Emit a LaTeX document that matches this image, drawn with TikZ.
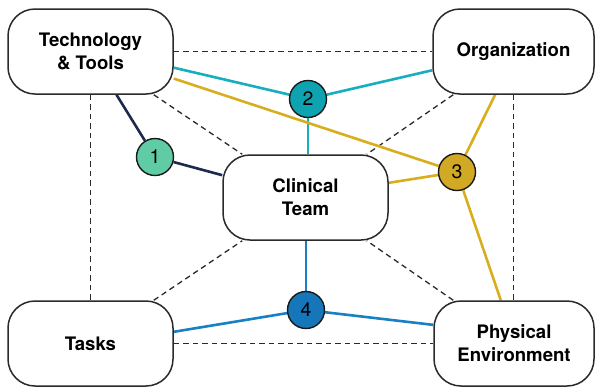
\documentclass[tikz,border=0pt]{standalone}
\usepackage{fontspec}
\setmainfont{TeX Gyre Heros}
\usetikzlibrary{calc}
\pgfdeclarelayer{bg}
\pgfsetlayers{bg,main}
\definecolor{navy}{HTML}{1C2A4F}
\definecolor{tealline}{HTML}{17AEBF}
\definecolor{tealfill}{HTML}{0FA3B1}
\definecolor{goldline}{HTML}{D8AE1F}
\definecolor{goldfill}{HTML}{D1A924}
\definecolor{blueline}{HTML}{1A80C4}
\definecolor{bluefill}{HTML}{1676BA}
\definecolor{mint}{HTML}{5FCCA6}
\definecolor{edge}{HTML}{2A2A2A}
\tikzset{
  box/.style={draw=edge, line width=1.5pt, fill=white, rounded corners=27pt,
    minimum width=165pt, minimum height=85pt, inner sep=0pt, align=center,
    font=\fontsize{18.6}{23}\selectfont\bfseries},
  num/.style={circle, draw=black!90, line width=1.4pt, minimum size=37pt, inner sep=0pt,
    font=\fontsize{19.5}{20}\selectfont},
  dashline/.style={dashed, dash pattern=on 5.5pt off 4pt, line width=1.3pt, draw=edge},
  cline/.style={line width=2.6pt}
}
\begin{document}
\begin{tikzpicture}[x=1pt,y=-1pt]
\useasboundingbox (0,0) rectangle (596,389);
\node[box] (tech) at (90.5,51.5) {Technology\\\& Tools};
\node[box, minimum width=161pt] (org) at (513.5,51.5) {Organization};
\node[box] (tasks) at (90.5,343.5) {Tasks};
\node[box, minimum width=160pt] (phys) at (514,343.5) {Physical\\Environment};
\node[box] (clin) at (305.5,197.5) {Clinical\\Team};
\node[num, fill=mint] (c1) at (155,157) {1};
\node[num, fill=tealfill] (c2) at (308,99) {2};
\node[num, fill=goldfill] (c3) at (457,172) {3};
\node[num, fill=bluefill] (c4) at (306,310) {4};
\begin{pgfonlayer}{bg}
  % dashed frame
  \draw[dashline] (tech.east) -- (org.west);
  \draw[dashline] (tech.south) -- (tasks.north);
  \draw[dashline] (org.south) -- (org.south |- phys.north);
  \draw[dashline] (tasks.east) -- (phys.west);
  % dashed diagonals
  \draw[dashline] ($(tech.south east)+(-20,0)$) -- ($(clin.north west)+(20,0)$);
  \draw[dashline] ($(org.south west)+(21,0)$) -- ($(clin.north east)+(-22,0)$);
  \draw[dashline] ($(tasks.north east)+(-20,0)$) -- ($(clin.south west)+(20,0)$);
  \draw[dashline] ($(phys.north west)+(20,0)$) -- ($(clin.south east)+(-22,0)$);
  % 1 navy
  \draw[cline, navy] (tech.-59) -- (c1) -- (clin.165.4);
  % 2 teal
  \draw[cline, tealline] (tech.-11.7) -- (c2) -- (org.-167.3);
  \draw[cline, tealline] (c2) -- (c2 |- clin.north);
  % 3 gold
  \draw[cline, goldline] (tech.-18.2) -- (c3);
  \draw[cline, goldline] (org.-113.5) -- (c3);
  \draw[cline, goldline] (clin.10.1) -- (c3) -- (phys.107.4);
  % 4 blue
  \draw[cline, blueline] (c4) -- (c4 |- clin.south);
  \draw[cline, blueline] (tasks.8.8) -- (c4) -- (phys.167.5);
\end{pgfonlayer}
\end{tikzpicture}
\end{document}
